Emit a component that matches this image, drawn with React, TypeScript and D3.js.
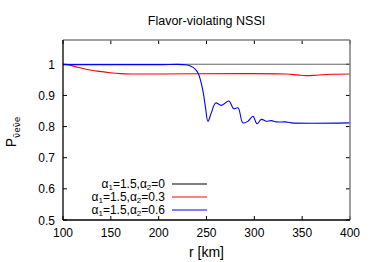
import * as d3 from "d3";

/** chart data */
const xTicks = [100, 150, 200, 250, 300, 350, 400];
const yTicks = [0.5, 0.6, 0.7, 0.8, 0.9, 1];

const rBlack = [100, 400];
const pBlack = [1, 1];

const rRed = [100, 110, 124, 136, 149, 160, 173, 200, 333, 345, 354, 365, 380, 400];
const pRed = [1, 0.995, 0.984, 0.978, 0.973, 0.97, 0.969, 0.969, 0.969, 0.966, 0.9635, 0.965, 0.968, 0.969];

const rBlue = [
  100, 150, 200, 230, 236, 241, 246, 249, 251.5, 255, 259.6, 265.5, 273.4, 278.4, 283, 288, 293.4,
  298.6, 302.8, 307.4, 312.6, 317.8, 323, 332.7, 338.7, 400,
];
const pBlue = [
  0.999, 0.999, 0.999, 0.998, 0.99, 0.973, 0.919, 0.86, 0.817, 0.844, 0.876, 0.868, 0.882, 0.857,
  0.86, 0.812, 0.817, 0.833, 0.809, 0.823, 0.817, 0.819, 0.815, 0.815, 0.812, 0.812,
];

const legendA2 = ["0", "0.3", "0.6"];
const colors = ["#666", "#ff0000", "#0000ff"];
const legendColors = ["#808080", "#ff8080", "#0000ff"];

/** svg dimensions */
const width = 374;
const height = 262;
const left = 63;
const right = 350;
const top = 40;
const bottom = 220;

const font = "'Liberation Sans', Arial, sans-serif";

const App = () => {
  const xScale = d3.scaleLinear().domain([100, 400]).range([left, right]);
  const yScale = d3.scaleLinear().domain([0.5, 1.078]).range([bottom, top]);

  const line = d3
    .line<[number, number]>()
    .x((d) => xScale(d[0]))
    .y((d) => yScale(d[1]))
    .curve(d3.curveCatmullRom.alpha(0.5));

  const series = [
    d3.zip(rBlack, pBlack) as [number, number][],
    d3.zip(rRed, pRed) as [number, number][],
    d3.zip(rBlue, pBlue) as [number, number][],
  ];

  return (
    <svg
      width={width}
      height={height}
      viewBox={[0, 0, width, height].join(" ")}
      style={{ position: "absolute", left: 0, top: 0, background: "#fff" }}
      fontFamily={font}
    >
      {/* title */}
      <text x={(left + right) / 2} y={25} fontSize={12.5} textAnchor="middle">
        Flavor-violating NSSI
      </text>

      {/* ticks, inward on all sides */}
      {xTicks.map((t) => (
        <g key={"x" + t}>
          <line x1={xScale(t)} x2={xScale(t)} y1={bottom} y2={bottom - 4} stroke="#000" />
          <line x1={xScale(t)} x2={xScale(t)} y1={top} y2={top + 4} stroke="#000" />
          <text x={xScale(t)} y={237} fontSize={12} textAnchor="middle">
            {t}
          </text>
        </g>
      ))}
      {yTicks.map((t) => (
        <g key={"y" + t}>
          <line x1={left} x2={left + 4} y1={yScale(t)} y2={yScale(t)} stroke="#000" />
          <line x1={right} x2={right - 4} y1={yScale(t)} y2={yScale(t)} stroke="#000" />
          <text x={55} y={yScale(t) + 4.5} fontSize={12} textAnchor="end">
            {t}
          </text>
        </g>
      ))}

      {/* data lines */}
      <g fill="none" strokeWidth={1.1}>
        {series.map((s, i) => (
          <path key={i} d={line(s) ?? ""} stroke={colors[i]} />
        ))}
      </g>

      {/* frame */}
      <line x1={left} x2={right} y1={top} y2={top} stroke="#808080" strokeWidth={1.5} />
      <line x1={right} x2={right} y1={top} y2={bottom} stroke="#808080" strokeWidth={1.5} />
      <line x1={left} x2={left} y1={top} y2={bottom} stroke="#000" strokeWidth={1.3} />
      <line x1={left} x2={right} y1={bottom} y2={bottom} stroke="#000" strokeWidth={1.3} />

      {/* legend */}
      {legendA2.map((a, i) => {
        const y = 184 + i * 13;
        return (
          <g key={a}>
            <text x={165} y={y + 4} fontSize={12} textAnchor="end">
              α<tspan fontSize={8} dy={2}>1</tspan>
              <tspan dy={-2}>=1.5,α</tspan>
              <tspan fontSize={8} dy={2}>2</tspan>
              <tspan dy={-2}>={a}</tspan>
            </text>
            <line
              x1={172}
              x2={207}
              y1={y}
              y2={y}
              stroke={legendColors[i]}
              strokeWidth={i === 2 ? 1.2 : 2}
            />
          </g>
        );
      })}

      {/* axis labels */}
      <text x={(left + right) / 2} y={257} fontSize={14} textAnchor="middle">
        r [km]
      </text>
      <text transform="translate(16, 132) rotate(-90)" fontSize={14} textAnchor="middle">
        P
        <tspan fontSize={9} dy={4} fontFamily="'DejaVu Sans', sans-serif">
          ν̄eν̄e
        </tspan>
      </text>
    </svg>
  );
};

export default App;
